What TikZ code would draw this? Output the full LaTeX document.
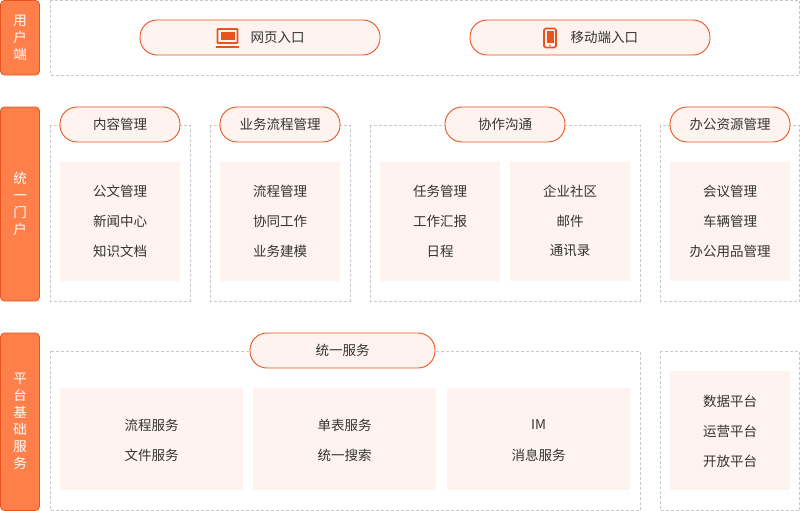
\documentclass[tikz,border=0pt]{standalone}
\usepackage{fontspec}
\setmainfont{Noto Sans CJK SC}
\definecolor{og}{HTML}{FF7F4A}
\definecolor{ogd}{HTML}{E8541E}
\definecolor{pk}{HTML}{FFF3EF}
\definecolor{tx}{HTML}{333333}
\definecolor{dg}{HTML}{C8C8C8}
\tikzset{
 side/.style={draw=ogd,fill=og,rounded corners=4pt,line width=0.8pt},
 dbox/.style={draw=dg,dash pattern=on 3pt off 2pt,line width=0.7pt},
 pill/.style={draw=ogd,fill=pk,rounded corners=17pt,line width=0.9pt},
 inner/.style={fill=pk},
 lbl/.style={text=tx,font=\fontsize{13.5}{16}\selectfont},
 slbl/.style={text=white,font=\fontsize{13.5}{17}\selectfont,align=center}
}
\begin{document}
\begin{tikzpicture}[x=1pt,y=-1pt]
\useasboundingbox (0,0) rectangle (800,511);
% side labels
\draw[side] (0.5,0.5) rectangle (39.5,75) node[midway,slbl] (s1) {用\\户\\端};
\draw[side] (0.5,107) rectangle (39.5,301) node[midway,slbl] (s2) {统\\一\\门\\户};
\draw[side] (0.5,333) rectangle (39.5,510.5) node[midway,slbl] (s3) {平\\台\\基\\础\\服\\务};
% row 1
\draw[dbox] (50,0.5) rectangle (799.5,75);
\draw[pill] (140,20) rectangle (380,55);
\node[lbl,anchor=west] (w) at (247,37.5) {网页入口};
\draw[pill] (470,20) rectangle (710,55);
\node[lbl,anchor=west] (m) at (567,37.5) {移动端入口};
% laptop icon
\draw[ogd,line width=1.6pt,rounded corners=0.5pt] (217.5,29) rectangle (237.5,43);
\fill[ogd] (220.5,32) rectangle (234.5,40);
\fill[ogd] (216,46) rectangle (239,48.5);
% phone icon
\draw[ogd,line width=1.6pt,rounded corners=1.5pt] (544,28.5) rectangle (556,47.5);
\fill[ogd] (546.5,31) rectangle (553.5,43);
\fill[ogd] (550,45.3) circle (0.9);
% row 2
\draw[dbox] (50,125) rectangle (190,301);
\draw[dbox] (210,125) rectangle (350,301);
\draw[dbox] (370,125) rectangle (640,301);
\draw[dbox] (660,125) rectangle (799.5,301);
\draw[pill] (60,107) rectangle (180,142) node[midway,lbl] (p1) {内容管理};
\draw[pill] (220,107) rectangle (340,142) node[midway,lbl] (p2) {业务流程管理};
\draw[pill] (445,107) rectangle (565,142) node[midway,lbl] (p3) {协作沟通};
\draw[pill] (670,107) rectangle (790,142) node[midway,lbl] (p4) {办公资源管理};
\foreach \xa/\xb/\a/\b/\c [count=\i] in {60/180/公文管理/新闻中心/知识文档,220/340/流程管理/协同工作/业务建模,380/500/任务管理/工作汇报/日程,510/630/企业社区/邮件/通讯录,670/790/会议管理/车辆管理/办公用品管理}{
 \fill[inner] (\xa,162) rectangle (\xb,281);
 \node[lbl] (a\i) at ({(\xa+\xb)/2},191) {\a};
 \node[lbl] (b\i) at ({(\xa+\xb)/2},221) {\b};
 \node[lbl] (c\i) at ({(\xa+\xb)/2},251) {\c};
}
% row 3
\draw[dbox] (50,351) rectangle (640,510.5);
\draw[dbox] (660,351) rectangle (799.5,510.5);
\draw[pill] (250,333) rectangle (435,368) node[midway,lbl] (p5) {统一服务};
\foreach \xa/\xb/\a/\b [count=\i] in {60/243/流程服务/文件服务,253/436/单表服务/统一搜索,447/630/IM/消息服务}{
 \fill[inner] (\xa,388) rectangle (\xb,490);
 \node[lbl] (d\i) at ({(\xa+\xb)/2},425) {\a};
 \node[lbl] (e\i) at ({(\xa+\xb)/2},455) {\b};
}
\fill[inner] (670,371) rectangle (790,490);
\node[lbl] (f1) at (730,401) {数据平台};
\node[lbl] (f2) at (730,431) {运营平台};
\node[lbl] (f3) at (730,461) {开放平台};
\end{tikzpicture}
\end{document}
